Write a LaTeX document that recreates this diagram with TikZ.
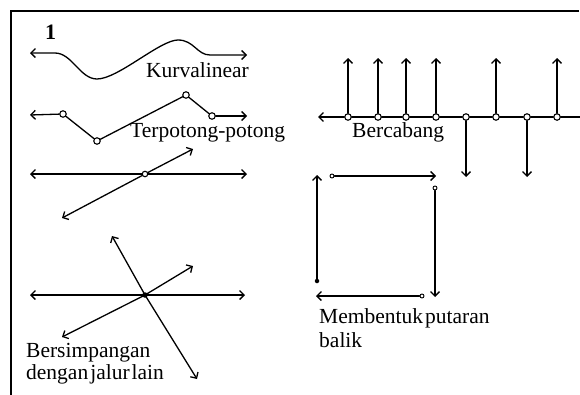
\documentclass[tikz,border=0pt]{standalone}
\usepackage{fontspec}
\setmainfont{Liberation Serif}
\usetikzlibrary{arrows.meta}
\begin{document}
\begin{tikzpicture}[x=1pt,y=-1pt,
  >={Straight Barb[length=4.5pt,width=9pt]},
  ln/.style={line width=1.3pt,line cap=round,line join=round},
  ring/.style={circle,draw,fill=white,line width=1.1pt,inner sep=0pt,minimum size=6.5pt},
  blob/.style={circle,fill=black,inner sep=0pt,minimum size=5.5pt},
  lbl/.style={anchor=base west,inner sep=0pt,font=\fontsize{21.5}{24}\selectfont}]
\useasboundingbox (0,0) rectangle (580,394);

% frame (top and left edges)
\coordinate (fTR) at (579,11);
\coordinate (fTL) at (11,11);
\coordinate (fBL) at (11,396);
\draw[line width=2pt] (fTR) -- (fTL) -- (fBL);

\node[lbl,font=\bfseries\fontsize{22}{24}\selectfont] (num) at (45,39) {1};

% curvilinear path
\coordinate (k0) at (30,53);
\coordinate (k1) at (55,53);
\coordinate (k2) at (97,79);
\coordinate (k3) at (178,40);
\coordinate (k4) at (210,55);
\coordinate (k5) at (247,55);
\draw[ln,<->] (k0) -- (k1) .. controls (72,53) and (80,79) .. (k2)
  .. controls (118,79) and (160,40) .. (k3)
  .. controls (194,40) and (197,55) .. (k4) -- (k5);
\node[lbl] (tKurva) at (146,77) {Kurvalinear};

% broken path with turning points
\coordinate (t0) at (30,115);
\node[ring] (t1) at (63,114) {};
\node[ring] (t2) at (97,141) {};
\node[ring] (t3) at (186,95) {};
\node[ring] (t4) at (212,116) {};
\coordinate (t5) at (247,116);
\draw[ln,->] (t1) -- (t0);
\draw[ln] (t1) -- (t2);
\draw[ln] (t2) -- (t3);
\draw[ln] (t3) -- (t4);
\draw[ln,->] (t4) -- (t5);
\node[lbl] (tPotong) at (130,137) {Terpotong-potong};

% single crossing
\coordinate (c0) at (30,174);
\coordinate (c1) at (247,174);
\coordinate (c2) at (62,218);
\coordinate (c3) at (193,149);
\node[ring,minimum size=5.5pt] (cx) at (145,174) {};
\draw[ln,->] (cx) -- (c0);
\draw[ln,->] (cx) -- (c1);
\draw[ln,->] (cx) -- (c2);
\draw[ln,->] (cx) -- (c3);

% multiple crossing
\node[blob] (mx) at (145,295) {};
\coordinate (m0) at (30,295);
\coordinate (m1) at (245,295);
\coordinate (m2) at (112,236);
\coordinate (m3) at (197,379);
\coordinate (m4) at (62,337);
\coordinate (m5) at (193,266);
\draw[ln,->] (mx.center) -- (m0);
\draw[ln,->] (mx.center) -- (m1);
\draw[ln,->] (mx.center) -- (m2);
\draw[ln,->] (mx.center) -- (m3);
\draw[ln,->] (mx.center) -- (m4);
\draw[ln,->] (mx.center) -- (m5);
\node[lbl] (tSimpang1) at (26,357) {Bersimpangan};
\node[lbl] (tSimpang2) at (26,379) {dengan\hspace{2pt}jalur\hspace{2pt}lain};

% branching path
\coordinate (b0) at (318,117);
\coordinate (bE) at (581,117);
\foreach \i/\x in {1/348,2/378,3/406,4/436,5/466,6/496,7/527,8/557}
  \node[ring] (b\i) at (\x,117) {};
\draw[ln,->] (b1) -- (b0);
\foreach \a/\b in {1/2,2/3,3/4,4/5,5/6,6/7,7/8}
  \draw[ln] (b\a) -- (b\b);
\draw[ln] (b8) -- (bE);
\foreach \i/\x in {1/348,2/378,3/406,4/436,6/496,8/557}{
  \coordinate (u\i) at (\x,58);
  \draw[ln,->] (b\i) -- (u\i);
}
\foreach \i/\x in {5/466,7/527}{
  \coordinate (d\i) at (\x,177);
  \draw[ln,->] (b\i) -- (d\i);
}
\node[lbl] (tCabang) at (352,137) {Bercabang};

% loop back
\node[ring,minimum size=4pt,line width=0.9pt] (q1) at (332,176) {};
\coordinate (q2) at (436,176);
\node[ring,minimum size=4pt,line width=0.9pt] (q3) at (435,188) {};
\coordinate (q4) at (435,297);
\node[ring,minimum size=4pt,line width=0.9pt] (q5) at (422,296) {};
\coordinate (q6) at (316,296);
\node[blob,minimum size=4.5pt] (q7) at (317,281) {};
\coordinate (q8) at (317,175);
\draw[ln,->] (q1) -- (q2);
\draw[ln,->] (q3) -- (q4);
\draw[ln,->] (q5) -- (q6);
\draw[ln,->] (q7.center) -- (q8);
\node[lbl] (tPutar1) at (319,323) {Membentuk\hspace{2pt}putaran};
\node[lbl] (tPutar2) at (319,347) {balik};
\end{tikzpicture}
\end{document}
